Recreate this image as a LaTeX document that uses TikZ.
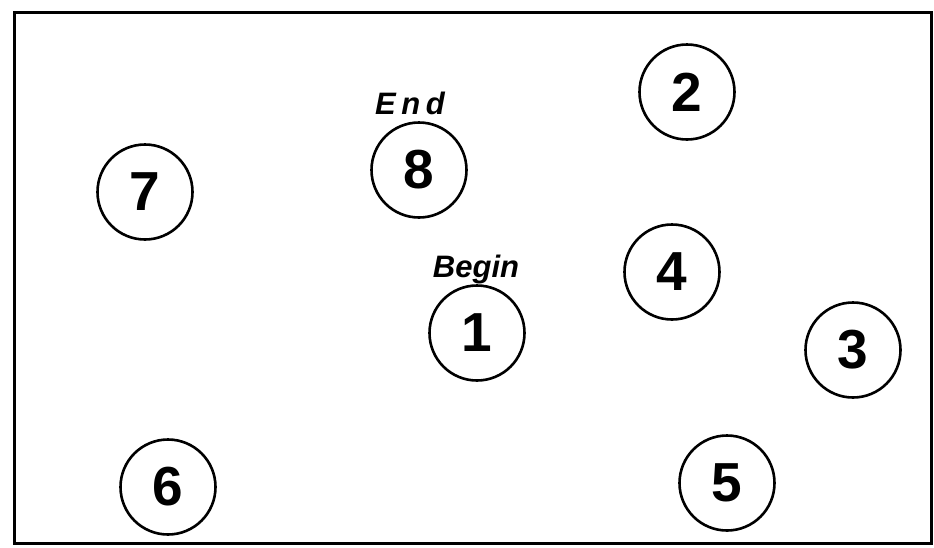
\documentclass[tikz,border=0pt]{standalone}
\usepackage{fontspec}
\setmainfont{Liberation Sans}
\begin{document}
\begin{tikzpicture}[x=1pt,y=-1pt,
  spot/.style={circle,draw,line width=2.6pt,minimum size=95pt,inner sep=0pt,font=\fontsize{55}{55}\selectfont\bfseries},
  tag/.style={font=\fontsize{31}{31}\selectfont\bfseries\itshape,inner sep=0pt}]
\useasboundingbox (0,0) rectangle (934,547);
\draw[line width=3pt] (14,12) rectangle (931,543);
\node[spot] (n2) at (687,92) {2};
\node[spot] (n8) at (419,170) {8};
\node[spot] (n7) at (145,192) {7};
\node[spot] (n4) at (672,272) {4};
\node[spot] (n1) at (477,333) {1};
\node[spot] (n3) at (853,350) {3};
\node[spot] (n6) at (168,487) {6};
\node[spot] (n5) at (727,483) {5};
\node[tag,anchor=base] (lend) at (410,114) {\addfontfeature{LetterSpace=18}End};
\node[tag,anchor=base] (lbegin) at (476,277) {Begin};
\end{tikzpicture}
\end{document}
